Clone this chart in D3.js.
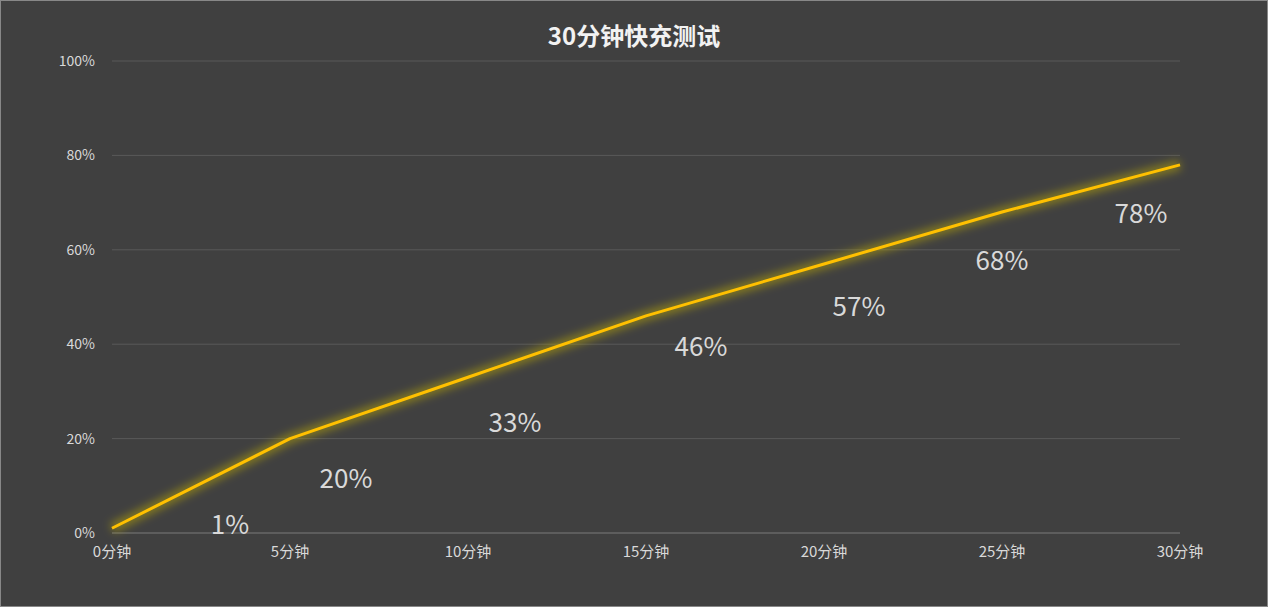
<!DOCTYPE html><html><head><meta charset="utf-8"><script src="https://cdn.jsdelivr.net/npm/d3@7"></script>
<style>body{margin:0;background:#fff}svg{display:block}</style></head><body><svg id="c" width="1268" height="607"></svg>
<script>
const categories=["0分钟","5分钟","10分钟","15分钟","20分钟","25分钟","30分钟"];
const values=[1,20,33,46,57,68,78];
const yTicks=[0,20,40,60,80,100];
const title="30分钟快充测试";
const labelShift=[[118,-3],[56,40],[47,46],[55,31],[35,43],[0,49],[-39,49]];
const svg=d3.select("#c");
const font="'Noto Sans CJK SC','Microsoft YaHei',sans-serif";
svg.append("rect").attr("x",0.5).attr("y",0.5).attr("width",1267).attr("height",606).attr("fill","#404040").attr("stroke","#888");
const x=d3.scalePoint().domain(categories).range([112,1180]);
const y=d3.scaleLinear().domain([0,100]).range([533,61]);
const defs=svg.append("defs");
const f=defs.append("filter").attr("id","glow").attr("x","-10%").attr("y","-10%").attr("width","120%").attr("height","120%");
f.append("feGaussianBlur").attr("in","SourceGraphic").attr("stdDeviation",4);
svg.append("g").selectAll("line").data(yTicks).join("line").attr("x1",112).attr("x2",1180).attr("y1",d=>y(d)).attr("y2",d=>y(d)).attr("stroke",d=>d===0?"#7a7a7a":"#595959");
svg.append("g").selectAll("text").data(yTicks).join("text").attr("x",95).attr("y",d=>y(d)+5).attr("text-anchor","end").attr("fill","#d9d9d9").attr("font-size",14).attr("font-family",font).text(d=>d+"%");
svg.append("g").selectAll("text").data(categories).join("text").attr("x",d=>x(d)).attr("y",557).attr("text-anchor","middle").attr("fill","#d9d9d9").attr("font-size",15).attr("font-family",font).text(d=>d);
const line=d3.line().x((d,i)=>x(categories[i])).y(d=>y(d));
svg.append("path").datum(values).attr("d",line).attr("fill","none").attr("stroke","#c8b400").attr("stroke-opacity",0.5).attr("stroke-width",10).attr("filter","url(#glow)");
svg.append("path").datum(values).attr("d",line).attr("fill","none").attr("stroke","#FFC000").attr("stroke-width",3).attr("stroke-linejoin","round");
svg.append("g").selectAll("text").data(values).join("text").attr("x",(d,i)=>x(categories[i])+labelShift[i][0]).attr("y",(d,i)=>y(d)+labelShift[i][1]+9).attr("text-anchor","middle").attr("fill","#d9d9d9").attr("font-size",26).attr("font-family",font).text(d=>d+"%");
svg.append("text").attr("x",634).attr("y",45).attr("text-anchor","middle").attr("fill","#f2f2f2").attr("font-size",24).attr("font-weight","bold").attr("font-family",font).text(title);
</script></body></html>
